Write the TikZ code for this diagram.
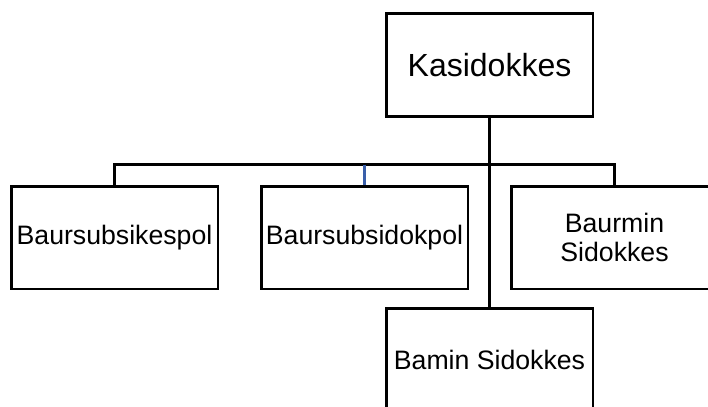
\documentclass[tikz,border=0pt]{standalone}
\usepackage{fontspec}
\setmainfont{Liberation Sans}
\usetikzlibrary{positioning}
\definecolor{linkblue}{RGB}{58,95,170}
\tikzset{
    unit/.style={draw=black, line width=2pt, minimum width=155pt, minimum height=77pt,
        inner sep=1pt, align=center, font=\fontsize{20}{21.5}\selectfont},
    head/.style={unit, font=\fontsize{24}{28}\selectfont},
    link/.style={draw=black, line width=2pt},
    bluelink/.style={draw=linkblue, line width=1.6pt},
}
\begin{document}
\begin{tikzpicture}[x=0.75pt, y=-0.75pt]
	\clip (0,0) rectangle (708,407);
	\useasboundingbox (0,0) rectangle (708,407);
	\node[head] (kasi) at (489.5, 65) {Kasidokkes};
	\node[unit] (bsk) at (114.5, 237.5) {Baursubsikespol};
	\node[unit] (bsd) at (364.5, 237.5) {Baursubsidokpol};
	\node[unit] (bms) at (614.5, 237.5) {Baurmin\\Sidokkes};
	\node[unit] (bam) at (489.5, 359.5) {Bamin Sidokkes};
	\coordinate (bar) at (489.5, 164.5);
%
	\draw[link] (kasi.south) -- (bam.north);
	\draw[link] (bsk.north) |- (bar) -| (bms.north);
	\draw[bluelink] (bar -| bsd.north) -- (bsd.north);
\end{tikzpicture}
\end{document}
